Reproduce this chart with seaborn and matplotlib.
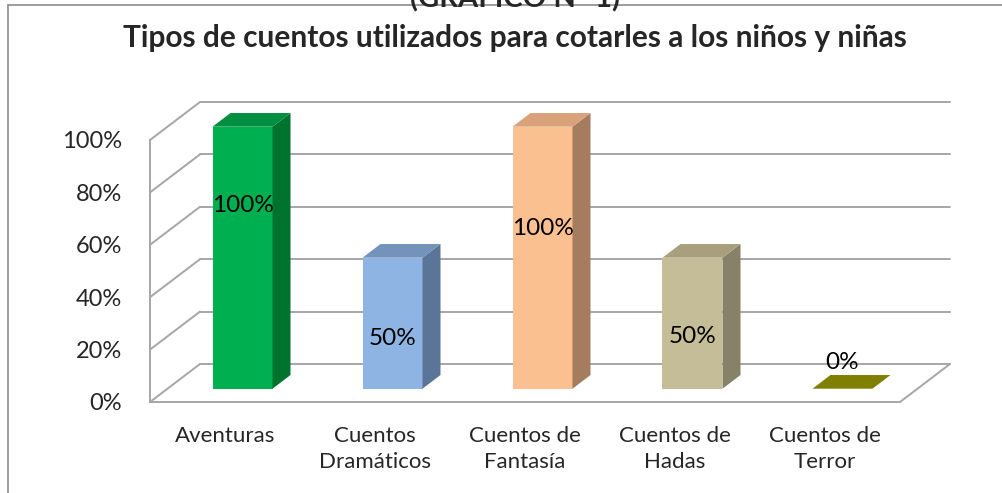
import matplotlib
matplotlib.use("Agg")
import matplotlib.pyplot as plt
import matplotlib.transforms as mtransforms
from matplotlib.patches import Polygon
from matplotlib.lines import Line2D
from matplotlib.ticker import PercentFormatter
import seaborn as sns

categories = ["Aventuras", "Cuentos\nDramáticos", "Cuentos de\nFantasía", "Cuentos de\nHadas", "Cuentos de\nTerror"]
values = [100, 50, 100, 50, 0]
front_colors = ["#00B050", "#8DB4E2", "#FAC090", "#C4BD97", "#808000"]
side_colors = ["#00732F", "#5B7598", "#A57D5E", "#878167", "#5C5C00"]
top_colors = ["#008F40", "#7393BA", "#D9A27A", "#A8A07C", "#808000"]
# where Excel put the value labels (in % of the axis)
label_heights = [70, 19, 61, 20, 10]
yticks = [0, 20, 40, 60, 80, 100]

title = "Tipos de cuentos utilizados para cotarles a los niños y niñas"
header = "(GRAFICO N° 1)"

sns.set_style("white")
plt.rcParams["font.family"] = ["Lato", "DejaVu Sans"]

W, H = 1003, 493
fig = plt.figure(figsize=(W / 100, H / 100), dpi=100)
ax_l, ax_r, ax_b, ax_t = 150, 900, 402, 140
ax = fig.add_axes([ax_l / W, (H - ax_b) / H, (ax_r - ax_l) / W, (ax_b - ax_t) / H])
ax.set_facecolor("none")

sns.barplot(x=categories, y=values, hue=categories, palette=front_colors,
            saturation=1, legend=False, width=0.4, ax=ax, zorder=3)
ax.set_xlim(-0.5, 4.5)
ax.set_ylim(0, 100)

# depth of the fake 3d box, in data units (50 px right, 38 px up)
Dx = 50 / ((ax_r - ax_l) / 5)
Dy = 38 / ((ax_b - ax_t) / 100)
d1, d2 = 0.35, 0.71

grid_kw = dict(color="#A6A6A6", lw=1.4, clip_on=False, zorder=1)
x0, x1 = ax.get_xlim()
for t in yticks:
    ax.plot([x0, x0 + Dx], [t, t + Dy], **grid_kw)
    ax.plot([x0 + Dx, x1 + Dx], [t + Dy, t + Dy], **grid_kw)
ax.plot([x0, x0], [0, 100], **grid_kw)
ax.plot([x0, x1, x1 + Dx], [0, 0, Dy], **grid_kw)

# bars: shift the seaborn front faces into the box, add side and top faces
bars = sorted(ax.patches, key=lambda p: p.get_x())
shift = mtransforms.Affine2D().translate(d1 * Dx, d1 * Dy) + ax.transData
for i, p in enumerate(bars):
    p.set_transform(shift)
    p.set_clip_on(False)
    p.set_edgecolor("none")
    bx0, bx1, v = p.get_x(), p.get_x() + p.get_width(), p.get_height()
    a = (d1 * Dx, d1 * Dy)
    b = (d2 * Dx, d2 * Dy)
    if v > 0:
        side = [(bx1 + a[0], a[1]), (bx1 + a[0], v + a[1]),
                (bx1 + b[0], v + b[1]), (bx1 + b[0], b[1])]
        ax.add_patch(Polygon(side, closed=True, fc=side_colors[i], ec="none",
                             clip_on=False, zorder=3))
    top = [(bx0 + a[0], v + a[1]), (bx1 + a[0], v + a[1]),
           (bx1 + b[0], v + b[1]), (bx0 + b[0], v + b[1])]
    ax.add_patch(Polygon(top, closed=True, fc=top_colors[i], ec="none",
                         clip_on=False, zorder=3))
    ax.text(p.get_x() + p.get_width() / 2 + a[0], label_heights[i] + a[1],
            f"{values[i]}%", ha="center", va="center", fontsize=17.5,
            color="black", zorder=5)

ax.set_yticks(yticks)
ax.yaxis.set_major_formatter(PercentFormatter(decimals=0))
ax.tick_params(axis="y", length=0, pad=20, labelsize=17)
ax.tick_params(axis="x", length=0, pad=17, labelsize=16)
for lab in ax.get_xticklabels():
    lab.set_linespacing(1.4)
sns.despine(ax=ax, left=True, bottom=True)
ax.set_xlabel("")
ax.set_ylabel("")

fig.text(515 / W, 1 - 38 / H, title, ha="center", va="center",
         fontsize=21.5, fontweight="bold")
fig.text(515 / W, 1 - 7 / H, header, ha="center", va="baseline",
         fontsize=21, fontweight="bold")

# frame of the chart object
fig.add_artist(Line2D([8 / W, 1], [1 - 5 / H, 1 - 5 / H], color="#8C8C8C", lw=1.2))
fig.add_artist(Line2D([8 / W, 8 / W], [0, 1 - 5 / H], color="#8C8C8C", lw=1.2))

fig.savefig("out.png", dpi=100)
